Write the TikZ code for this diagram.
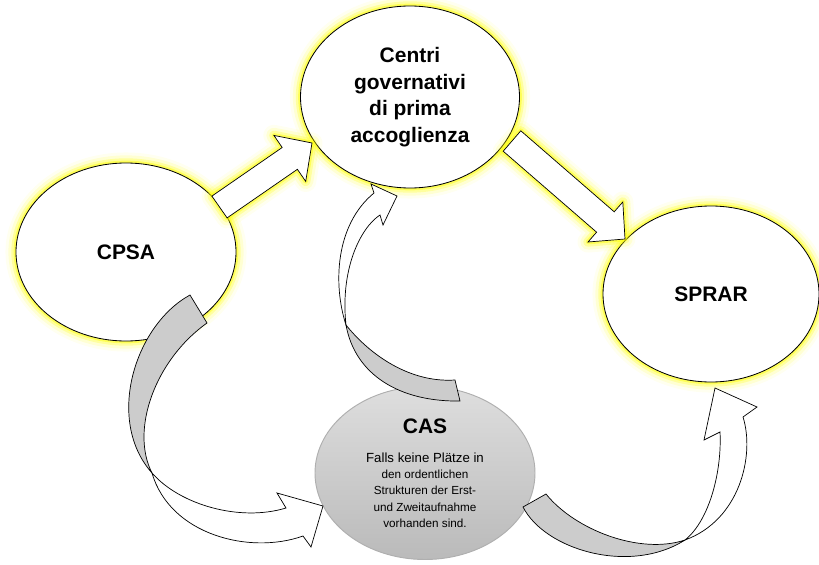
\documentclass[tikz,border=0pt]{standalone}
\usepackage{fontspec}
\setmainfont{Liberation Sans}
\usetikzlibrary{shapes.geometric}

\definecolor{halo}{RGB}{255,255,0}
\definecolor{bandgray}{RGB}{204,204,204}
\definecolor{castop}{RGB}{222,222,222}
\definecolor{casbottom}{RGB}{186,186,186}
\definecolor{casedge}{RGB}{175,175,175}

\tikzset{
  glow/.style={
    preaction={draw=halo, line width=18pt, draw opacity=0.06, line join=round},
    preaction={draw=halo, line width=13pt, draw opacity=0.12, line join=round},
    preaction={draw=halo, line width=8pt, draw opacity=0.25, line join=round},
    preaction={draw=halo, line width=4pt, draw opacity=0.45, line join=round}},
  stage/.style={ellipse, draw=black, line width=0.7pt, fill=white, inner sep=0pt,
    align=center, font=\fontsize{17.9}{22.8}\selectfont\bfseries, glow},
  casnode/.style={ellipse, draw=casedge, line width=0.8pt, top color=castop,
    bottom color=casbottom, inner sep=0pt, align=center},
  flowarrow/.style={draw=black, line width=0.6pt, fill=white, line join=miter},
  band/.style={draw=black, line width=0.6pt, fill=bandgray},
  bandtop/.style={draw=black, line width=0.6pt, fill=white},
}

\begin{document}
\begin{tikzpicture}[x=0.03cm, y=-0.03cm]
  \useasboundingbox (0,0) rectangle (819,565);

  \node[stage, minimum width=6.6cm, minimum height=5.34cm] (cpsa) at (126,252) {CPSA};
  \node[stage, minimum width=6.57cm, minimum height=5.46cm] (centri) at (410,97)
    {Centri\\governativi\\di prima\\accoglienza};
  \node[stage, minimum width=6.48cm, minimum height=5.28cm] (sprar) at (711,294) {SPRAR};
  \node[casnode, minimum width=6.6cm, minimum height=5.19cm] (cas) at (425,473)
    {\fontsize{17.9}{22.8}\selectfont\bfseries CAS\\[13pt]
     \fontsize{11.3}{13.9}\selectfont\mdseries Falls keine Plätze in\\[1.9pt]den ordentlichen\\[1.9pt]
     Strukturen der Erst-\\[1.9pt]und Zweitaufnahme\\[1.9pt]vorhanden sind.};

  % straight arrows
  \draw[flowarrow, glow] (211.9,196.1) -- (282.2,147.5) -- (273.9,135.4) -- (312,143)
    -- (305.7,181.4) -- (297.4,169.3) -- (227.1,217.9) -- cycle;
  \draw[flowarrow, glow] (520.8,130.8) -- (614.2,211.8) -- (622.8,202.0) -- (625,239)
    -- (588.0,242.0) -- (596.6,232.2) -- (503.2,151.2) -- cycle;

  % cpsa -> cas
  \draw[band] (190,295) .. controls (135,325) and (105,420) .. (152,473)
    .. controls (130,430) and (155,360) .. (207,323) -- cycle;
  \draw[bandtop] (152,473) .. controls (180,505) and (240,522) .. (286,508)
    -- (277,493) -- (323,506) -- (311,547) -- (303,536)
    .. controls (250,555) and (170,535) .. (152,473) -- cycle;

  % cas -> centri
  \draw[band] (455,380) .. controls (410,383) and (370,355) .. (346,325)
    .. controls (355,375) and (400,402) .. (460,401) -- cycle;
  \draw[bandtop] (346,325) .. controls (333,285) and (335,225) .. (374,193)
    -- (371,184) -- (397,196) -- (383,225) -- (380,215)
    .. controls (360,228) and (340,270) .. (346,325) -- cycle;

  % cas -> sprar
  \draw[band] (523,507) .. controls (545,550) and (630,575) .. (685,540)
    .. controls (640,555) and (575,530) .. (546,494) -- cycle;
  \draw[bandtop] (685,540) .. controls (710,520) and (722,470) .. (720,432)
    -- (704,440) -- (715,388) -- (757,407) -- (743,417)
    .. controls (755,455) and (740,520) .. (685,540) -- cycle;
\end{tikzpicture}
\end{document}
